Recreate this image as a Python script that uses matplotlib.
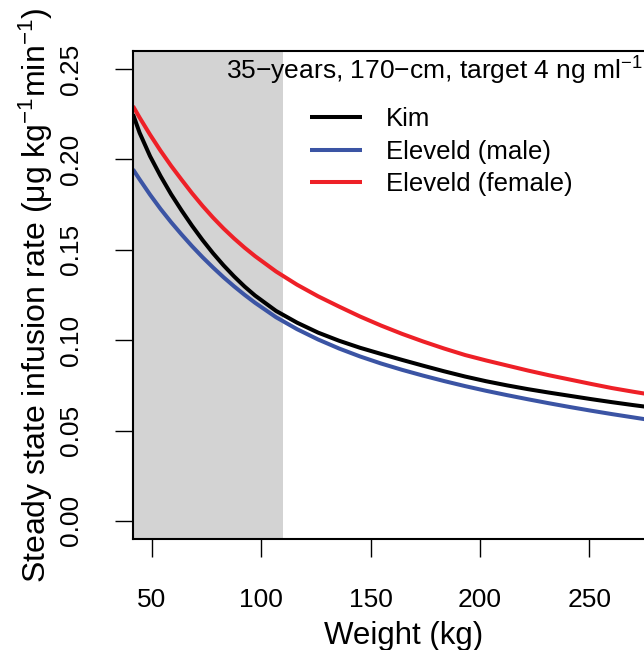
import matplotlib.pyplot as plt

plt.rcParams.update(
    {
        "font.family": ["Liberation Sans", "DejaVu Sans"],
        "mathtext.fontset": "custom",
        "mathtext.rm": "Liberation Sans",
        "mathtext.it": "Liberation Sans:italic",
        "axes.unicode_minus": True,
    }
)

# Weight (kg) and steady-state infusion rates (ug/kg/min)
weight = [41.3, 44.3, 49.1, 53.9, 58.7, 63.5, 68.3, 73.1, 77.9, 82.7, 87.5, 92.3, 97.1, 106.7,
          116.3, 125.9, 135.5, 145.1, 154.7, 164.3, 173.9, 183.5, 193.1, 202.7, 212.3, 221.9,
          231.5, 241.1, 250.7, 260.3, 269.9, 279.5, 289.1]
kim = [0.2250, 0.2148, 0.2018, 0.1908, 0.1808, 0.1718, 0.1633, 0.1554, 0.1481, 0.1414, 0.1353,
       0.1297, 0.1247, 0.1162, 0.1097, 0.1042, 0.0997, 0.0958, 0.0924, 0.0891, 0.0859, 0.0828,
       0.0799, 0.0773, 0.0750, 0.0729, 0.0710, 0.0692, 0.0674, 0.0657, 0.0641, 0.0626, 0.0612]
eleveld_male = [0.1945, 0.1890, 0.1805, 0.1726, 0.1653, 0.1585, 0.1520, 0.1459, 0.1402, 0.1348,
                0.1298, 0.1251, 0.1207, 0.1127, 0.1061, 0.1004, 0.0954, 0.0910, 0.0871, 0.0836,
                0.0804, 0.0774, 0.0746, 0.0720, 0.0696, 0.0673, 0.0651, 0.0630, 0.0610, 0.0591,
                0.0573, 0.0555, 0.0538]
eleveld_female = [0.2295, 0.2232, 0.2137, 0.2048, 0.1965, 0.1888, 0.1813, 0.1743, 0.1678, 0.1618,
                  0.1563, 0.1512, 0.1465, 0.1380, 0.1307, 0.1243, 0.1186, 0.1131, 0.1081, 0.1035,
                  0.0993, 0.0954, 0.0918, 0.0888, 0.0860, 0.0832, 0.0806, 0.0782, 0.0758, 0.0735,
                  0.0715, 0.0696, 0.0678]
series = [
    ("Kim", kim, "black"),
    ("Eleveld (male)", eleveld_male, "#3B54A4"),
    ("Eleveld (female)", eleveld_female, "#EE2027"),
]
x_ticks = [50, 100, 150, 200, 250]
y_ticks = [0.00, 0.05, 0.10, 0.15, 0.20, 0.25]
shade_end = 110

W, H = 644, 650
fig = plt.figure(figsize=(W / 100, H / 100), dpi=100)
ax = fig.add_axes([133 / W, 111 / H, 542 / W, 488 / H])

ax.axvspan(weight[0], shade_end, color="#D3D3D3", lw=0, zorder=0)
for label, vals, col in series:
    ax.plot(weight, vals, color=col, lw=2.9, label=label, solid_capstyle="butt")

ax.set_xlim(41.3, 289.1)
ax.set_ylim(-0.01, 0.26)
ax.set_xticks(x_ticks)
ax.set_xticklabels([str(t) for t in x_ticks])
ax.set_yticks(y_ticks)
ax.set_yticklabels([f"{t:.2f}" for t in y_ticks], rotation=90, va="center")
ax.tick_params(axis="both", direction="out", length=13, width=1, labelsize=19)
ax.tick_params(axis="x", pad=22)
ax.tick_params(axis="y", pad=23)
for sp in ax.spines.values():
    sp.set_linewidth(1.5)

ax.set_xlabel("Weight (kg)", fontsize=22.5, labelpad=6.5)
ax.set_ylabel("Steady state infusion rate (μg kg$^{-1}$min$^{-1}$)", fontsize=23, labelpad=3)

fig.text(643 / W, 1 - 79.5 / H, "35−years, 170−cm, target 4 ng ml$^{-1}$",
         ha="right", va="baseline", fontsize=19)

ax.legend(loc="upper left", bbox_to_anchor=(310 / W, 1 - 107 / H), bbox_transform=fig.transFigure,
          frameon=False, fontsize=18.5, handlelength=2.02, handletextpad=0.93,
          labelspacing=0.34, borderpad=0, borderaxespad=0)

fig.savefig("out.png", dpi=100)
